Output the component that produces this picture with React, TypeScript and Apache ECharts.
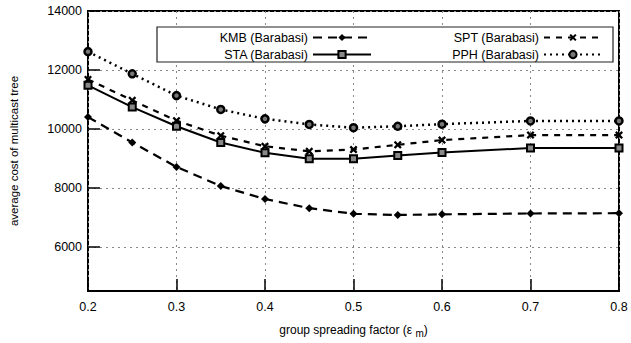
import React, { useEffect, useRef } from "react";
import * as echarts from "echarts";

const xValues = [0.2, 0.25, 0.3, 0.35, 0.4, 0.45, 0.5, 0.55, 0.6, 0.7, 0.8];
const kmb = [10400, 9540, 8710, 8060, 7620, 7310, 7120, 7080, 7100, 7130, 7140];
const sta = [11480, 10740, 10090, 9540, 9190, 8990, 8990, 9100, 9200, 9350, 9350];
const spt = [11680, 10970, 10280, 9770, 9410, 9240, 9300, 9460, 9620, 9790, 9790];
const pph = [12620, 11870, 11130, 10660, 10340, 10150, 10040, 10090, 10160, 10270, 10270];
const yTicks = [6000, 8000, 10000, 12000, 14000];
const xTicks = [0.2, 0.3, 0.4, 0.5, 0.6, 0.7, 0.8];

const FONT = "Liberation Sans";
const X_SYMBOL =
  "path://M0,2 L2,0 L5,3 L8,0 L10,2 L7,5 L10,8 L8,10 L5,7 L2,10 L0,8 L3,5 Z";

const pairs = (ys: number[]) => xValues.map((x, i) => [x, ys[i]]);

export default function App() {
  const ref = useRef<HTMLDivElement>(null);
  useEffect(() => {
    if (!ref.current) return;
    const chart = echarts.init(ref.current, null, { renderer: "svg" });
    const gridLine = { show: true, lineStyle: { color: "#888", type: [2, 4] as any, width: 1 } };
    const legendText = { fontFamily: FONT, fontSize: 12.5, color: "#000" };
    chart.setOption({
      animation: false,
      textStyle: { fontFamily: FONT },
      grid: {
        left: 88,
        right: 12,
        top: 11,
        bottom: 45,
        show: true,
        borderColor: "#000",
        borderWidth: 2,
        backgroundColor: "transparent",
      },
      legend: [
        {
          orient: "vertical",
          right: 254,
          top: 26,
          align: "right",
          itemWidth: 58,
          itemHeight: 9,
          itemGap: 4,
          textStyle: legendText,
          data: ["KMB (Barabasi)", "STA (Barabasi)"],
        },
        {
          orient: "vertical",
          right: 23,
          top: 26,
          align: "right",
          itemWidth: 58,
          itemHeight: 9,
          itemGap: 4,
          textStyle: legendText,
          data: ["SPT (Barabasi)", "PPH (Barabasi)"],
        },
      ],
      graphic: [
        {
          type: "rect",
          shape: { x: 157, y: 27, width: 456, height: 35 },
          style: { fill: "#fff", stroke: "#222", lineWidth: 1.2 },
          z: 1,
        },
      ],
      xAxis: {
        type: "value",
        min: 0.2,
        max: 0.8,
        name: "{a|group spreading factor (ε }{s|m}{a|)}",
        nameLocation: "middle",
        nameGap: 30,
        nameTextStyle: {
          rich: {
            a: { fontFamily: FONT, fontSize: 12, color: "#000" },
            s: { fontFamily: FONT, fontSize: 10, color: "#000", padding: [7, 0, 0, 0] },
          },
        },
        axisLine: { show: false },
        axisTick: { show: true, inside: true, length: 12, customValues: xTicks, lineStyle: { color: "#000", width: 1.5 } },
        axisLabel: { customValues: xTicks, fontFamily: FONT, fontSize: 12.5, color: "#000", margin: 9, formatter: (v: number) => v.toFixed(1) },
        splitLine: gridLine,
      },
      yAxis: {
        type: "value",
        min: 4500,
        max: 14000,
        name: "average cost of multicast tree",
        nameLocation: "middle",
        nameGap: 68,
        nameTextStyle: { fontFamily: FONT, fontSize: 11.5, color: "#000" },
        axisLine: { show: false },
        axisTick: { show: true, inside: true, length: 12, customValues: yTicks, lineStyle: { color: "#000", width: 1.5 } },
        axisLabel: { customValues: yTicks, fontFamily: FONT, fontSize: 12.5, color: "#000", margin: 6, formatter: (v: number) => String(v) },
        splitLine: gridLine,
      },
      series: [
        {
          name: "KMB (Barabasi)",
          type: "line",
          data: pairs(kmb),
          symbol: "diamond",
          symbolSize: 8,
          itemStyle: { color: "#000" },
          lineStyle: { color: "#000", width: 2.2, type: [9, 6] as any },
          z: 3,
        },
        {
          name: "STA (Barabasi)",
          type: "line",
          data: pairs(sta),
          symbol: "rect",
          symbolSize: 7,
          itemStyle: { color: "#888", borderColor: "#000", borderWidth: 2 },
          lineStyle: { color: "#000", width: 2, type: "solid" },
          z: 3,
        },
        {
          name: "SPT (Barabasi)",
          type: "line",
          data: pairs(spt),
          symbol: X_SYMBOL,
          symbolSize: 8,
          itemStyle: { color: "#000" },
          lineStyle: { color: "#000", width: 2.2, type: [6, 6] as any },
          z: 3,
        },
        {
          name: "PPH (Barabasi)",
          type: "line",
          data: pairs(pph),
          symbol: "circle",
          symbolSize: 7,
          itemStyle: { color: "#777", borderColor: "#000", borderWidth: 2.5 },
          lineStyle: { color: "#000", width: 2.5, type: [2, 4] as any },
          z: 3,
        },
      ],
    });
    return () => chart.dispose();
  }, []);
  return <div ref={ref} style={{ width: 631, height: 343, position: "absolute", left: 0, top: 0 }} />;
}
